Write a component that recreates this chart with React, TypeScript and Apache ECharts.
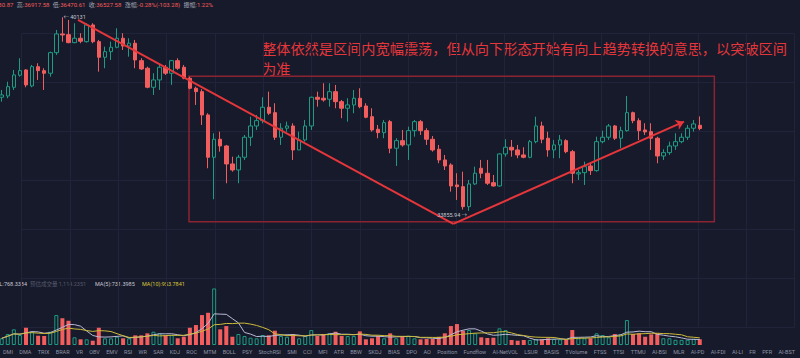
import React, { useEffect, useRef } from "react";
import * as echarts from "echarts";

// ---- candle data ----
const opens = [
  37539, 37581, 37863, 38252, 38424, 37905, 38530, 38401, 38317, 38984,
  39590, 39567, 39308, 39451, 39340, 39882, 39340, 38835, 39016, 39159,
  39451, 39201, 39289, 38725, 38479, 37863, 38100, 38511, 38317, 38725,
  38511, 38155, 37831, 37720, 36966, 35595, 36178, 35961, 35378, 35184,
  35595, 36243, 36609, 36781, 37215, 37040, 36243, 36535, 36609, 35832,
  36156, 36609, 37539, 37507, 37474, 37720, 37396, 37183, 37290, 37507,
  37257, 36910, 36502, 36392, 36748, 35887, 36133, 35994, 36457, 36748,
  36457, 36178, 35854, 35508, 35346, 34698, 34642, 33994, 34730, 35239,
  35077, 34772, 34665, 35702, 35919, 35832, 35670, 35595, 36100, 36609,
  36211, 35832, 35994, 36133, 35776, 35054, 35096, 35313, 35161, 36100,
  36243, 36609, 36211, 36457, 37040, 36781, 36480, 36424, 36211, 35637,
  35744, 35961, 36100, 36243, 36535, 36630.87,
];
const closes = [
  37614, 37882, 38262, 38401, 37938, 38530, 38401, 38317, 38984, 39590,
  39557, 39308, 39451, 39353, 39882, 39340, 38835, 39016, 39159, 39451,
  39201, 39289, 38748, 38456, 37863, 38100, 38511, 38317, 38725, 38479,
  38155, 37831, 37720, 36966, 35595, 36178, 35961, 35378, 35184, 35595,
  36243, 36609, 36781, 37215, 37021, 36243, 36535, 36609, 35832, 36156,
  36609, 37539, 37474, 37452, 37720, 37396, 37183, 37290, 37507, 37234,
  36891, 36480, 36392, 36716, 35887, 36133, 35994, 36457, 36748, 36457,
  36178, 35832, 35508, 35313, 34665, 34642, 33994, 34730, 35077, 35077,
  34753, 34665, 35702, 35919, 35832, 35670, 35595, 36100, 36609, 36178,
  35832, 35994, 36156, 35776, 35077, 35096, 35290, 35161, 36100, 36243,
  36609, 36211, 36457, 37040, 36781, 36457, 36415, 36211, 35637, 35744,
  35961, 36100, 36243, 36535, 36674, 36527.58,
];
const highs = [
  37776, 38044, 38424, 38803, 38446, 38586, 38641, 38479, 39016, 39720,
  40131, 40044, 39937, 39613, 39937, 39937, 39396, 39178, 39340, 39775,
  39613, 39451, 39396, 38803, 38530, 38317, 38586, 38586, 38748, 38803,
  38586, 38206, 37882, 37798, 37021, 36373, 36424, 35994, 35614, 35670,
  36318, 36910, 36966, 37539, 37720, 37345, 36697, 36748, 36697, 36424,
  36804, 37558, 37720, 37993, 37993, 37938, 37452, 37507, 37776, 37831,
  37345, 37183, 36642, 36804, 36804, 36211, 36480, 36586, 36804, 36804,
  36535, 36285, 35994, 35670, 35401, 35077, 35128, 34860, 35290, 35508,
  35508, 35022, 35725, 36178, 36156, 35994, 35919, 36156, 36910, 36748,
  36424, 36156, 36318, 36178, 35832, 35184, 35452, 35401, 36262, 36457,
  36674, 36642, 36586, 37581, 37073, 36859, 36697, 36697, 36262, 35854,
  36100, 36373, 36373, 36642, 36804, 36917.58,
];
const lows = [
  37396, 37507, 37776, 38206, 37863, 37863, 38100, 37776, 38206, 38910,
  39340, 39289, 39289, 39289, 39308, 39289, 38368, 38479, 38748, 39127,
  39072, 38854, 38479, 38424, 37831, 37614, 37776, 38262, 37938, 38424,
  38122, 37798, 37290, 36642, 35239, 34234, 35776, 34753, 35128, 34753,
  35508, 35961, 36480, 36697, 36966, 36156, 35994, 36424, 35508, 35832,
  36100, 36480, 37234, 37396, 37234, 37183, 36859, 36748, 37021, 37183,
  36859, 36424, 36211, 36211, 35725, 35313, 35938, 35508, 36262, 36318,
  35994, 35776, 35401, 35184, 34480, 34212, 33900, 33855.94, 34698, 34915,
  34698, 34642, 34642, 35614, 35614, 35563, 35563, 35563, 36049, 36049,
  35614, 35563, 35563, 35725, 34753, 34860, 34698, 35022, 35128, 36049,
  36156, 36156, 35887, 36424, 36697, 36156, 36318, 35832, 35401, 35508,
  35670, 35832, 36049, 36156, 36424, 36470.61,
];
const volumes = [
  891, 1463, 2088, 1330, 2301, 1769, 1237, 1197, 1769, 3990,
  3551, 3232, 1024, 758, 758, 572, 2301, 891, 891, 1104,
  891, 891, 1290, 1290, 1556, 1769, 1556, 1290, 1330, 891,
  1104, 2301, 2660, 3990, 4296, 7541, 2088, 2527, 1104, 1463,
  1197, 971, 891, 1330, 1290, 1902, 1197, 1104, 1463, 891,
  1197, 1995, 1197, 1463, 1556, 1769, 1197, 1197, 1197, 1822,
  758, 891, 1197, 891, 1556, 891, 1104, 1237, 891, 758,
  798, 798, 1104, 1556, 2527, 2793, 1902, 1995, 1556, 1024,
  931, 971, 2221, 1995, 665, 572, 665, 665, 798, 758,
  891, 798, 758, 665, 1995, 891, 891, 891, 1556, 1330,
  1024, 1463, 1423, 3325, 1463, 1556, 1104, 1423, 1556, 900,
  898, 690, 680, 700, 819, 768.3384,
];
const SLOT_COUNT = 132; // candle slots incl. empty future slots on the right

// ---- annotations (index, price) ----
const boxCorners = [[30.86, 38219], [117.4, 33508]];
const downTrend = [[12.57, 40043], [74.4, 33434]];
const upTrend = [[74.4, 33434], [112.4, 36748]];
const extremeHigh = { index: 10, price: 40131 };
const extremeLow = { index: 77, price: 33855.94 };

const headerParts = [
  ["开:", "36630.87"],
  ["高:", "36917.58"],
  ["低:", "36470.61"],
  ["收:", "36527.58"],
  ["涨幅:", "-0.28%(-103.28)"],
  ["振幅:", "1.22%"],
];
const volLegend = {
  vol: "VOL:768.3384",
  est: "预估成交量 1,114.2351",
  ma5: "MA(5):731.3985",
  ma10: "MA(10):953.7841",
};
const noteText =
  "整体依然是区间内宽幅震荡，但从向下形态开始有向上趋势转换的意思，以突破区间\n为准";
const toolbarItems = [
  "DMI", "DMA", "TRIX", "BRAR", "VR", "OBV", "EMV", "RSI", "WR", "SAR", "KDJ",
  "ROC", "MTM", "BOLL", "PSY", "StochRSI", "SMI", "CCI", "MFI", "ATR", "BBW",
  "SKDJ", "BIAS", "DPO", "AO", "Position", "Fundflow", "AI-NetVOL", "LSUR",
  "BASIS", "TVolume", "FTSS", "TTSI", "TTMU", "AI-BSI", "MLR", "AI-PD",
  "AI-FDI", "AI-LI", "FR", "PFR", "AI-BST",
];

const BG = "#171a2a";
const UP = "#1d9b83";
const DOWN = "#f25d5d";
const LINE = "#e5363b";
const BOX = "#8c2333";
const FONT = "Roboto, 'Noto Sans CJK SC', sans-serif";
const SMALL = 5.5;

function movingAvg(arr: number[], k: number) {
  return arr.map((_, i) => {
    const s = Math.max(0, i - k + 1);
    const part = arr.slice(s, i + 1);
    return part.reduce((a, b) => a + b, 0) / part.length;
  });
}

export default function App() {
  const ref = useRef<HTMLDivElement>(null);
  useEffect(() => {
    const chart = echarts.init(ref.current!, null, { renderer: "svg" });
    const cats = Array.from({ length: SLOT_COUNT }, (_, i) => String(i + 1));
    const candle = opens.map((o, i) => [o, closes[i], lows[i], highs[i]]);
    const volData = volumes.map((v, i) => ({
      value: v,
      itemStyle:
        closes[i] >= opens[i]
          ? { color: BG, borderColor: UP, borderWidth: 1 }
          : { color: DOWN, borderColor: DOWN, borderWidth: 0 },
    }));
    const ma5 = movingAvg(volumes, 5);
    const ma10 = movingAvg(volumes, 10);
    const hidden = {
      axisLine: { show: false },
      axisTick: { show: false },
      axisLabel: { show: false },
      splitLine: { show: false },
    };
    const gridLeft = 1.7;
    const gridRight = 3.1;

    // measure toolbar item widths so they can be spread across the width
    const ctx = document.createElement("canvas").getContext("2d")!;
    ctx.font = `${SMALL}px Roboto`;
    const widths = toolbarItems.map((t) => ctx.measureText(t).width);
    const totalW = widths.reduce((a, b) => a + b, 0);
    const startX = 3;
    const endX = 795;
    const gap = (endX - startX - totalW) / (toolbarItems.length - 1);
    let cx = startX;
    const toolbarGraphics = toolbarItems.map((t, i) => {
      const g = {
        type: "text",
        x: cx,
        y: 352,
        silent: true,
        style: {
          text: t,
          fill: "#8e94a6",
          fontSize: SMALL,
          fontFamily: "Roboto",
          verticalAlign: "middle",
          textVerticalAlign: "middle",
        },
      };
      cx += widths[i] + gap;
      return g;
    });

    const headerRich = headerParts
      .map(([l, v]) => `{l|${l}}{v|${v}}`)
      .join(" ");

    const smallText = (x: number, y: number, text: string, fill: string, align = "left") => ({
      type: "text",
      x,
      y,
      silent: true,
      style: {
        text,
        fill,
        fontSize: SMALL,
        fontFamily: FONT,
        align,
        textAlign: align,
        verticalAlign: "middle",
        textVerticalAlign: "middle",
      },
    });

    chart.setOption({
      animation: false,
      backgroundColor: BG,
      grid: [
        { left: gridLeft, right: gridRight, top: 0, height: 260 },
        { left: gridLeft, right: gridRight, top: 285, height: 60 },
        { left: 21.7, top: 33.5, width: 772.8, height: 294 },
      ],
      xAxis: [
        { type: "category", gridIndex: 0, data: cats, boundaryGap: false, ...hidden },
        { type: "value", gridIndex: 0, min: 0, max: SLOT_COUNT - 1, ...hidden },
        { type: "category", gridIndex: 1, data: cats, boundaryGap: false, ...hidden },
        {
          type: "value", gridIndex: 2, min: 0, max: 16, interval: 1,
          axisLine: { show: false }, axisTick: { show: false }, axisLabel: { show: false },
          splitLine: { show: true, lineStyle: { color: "#20243a", width: 1 } },
        },
      ],
      yAxis: [
        { type: "value", gridIndex: 0, min: 32266, max: 40690, ...hidden },
        { type: "value", gridIndex: 1, min: 0, max: 8000, ...hidden },
        {
          type: "value", gridIndex: 2, min: 0, max: 6, interval: 1,
          axisLine: { show: false }, axisTick: { show: false }, axisLabel: { show: false },
          splitLine: { show: true, lineStyle: { color: "#20243a", width: 1 } },
        },
      ],
      series: [
        {
          type: "candlestick",
          xAxisIndex: 0,
          yAxisIndex: 0,
          data: candle,
          barWidth: 4,
          clip: false,
          itemStyle: {
            color: BG,
            color0: DOWN,
            borderColor: UP,
            borderColor0: DOWN,
            borderWidth: 1,
          },
          markPoint: {
            silent: true,
            symbol: "circle",
            symbolSize: 0,
            data: [
              {
                coord: [extremeHigh.index, extremeHigh.price],
                label: {
                  show: true, position: "right", distance: 1,
                  formatter: "← " + extremeHigh.price,
                  color: "#c3c6d1", fontSize: SMALL, fontFamily: FONT,
                },
              },
              {
                coord: [extremeLow.index, extremeLow.price],
                label: {
                  show: true, position: "left", distance: 2, offset: [0, 4],
                  formatter: extremeLow.price.toFixed(2) + " →",
                  color: "#c3c6d1", fontSize: SMALL, fontFamily: FONT,
                },
              },
            ],
          },
        },
        {
          type: "line",
          xAxisIndex: 1,
          yAxisIndex: 0,
          data: [],
          silent: true,
          markArea: {
            silent: true,
            itemStyle: { color: "rgba(0,0,0,0)", borderColor: BOX, borderWidth: 1.5 },
            label: { show: false },
            data: [[{ coord: boxCorners[0] }, { coord: boxCorners[1] }]],
          },
          markLine: {
            silent: true,
            symbol: ["none", "none"],
            label: { show: false },
            lineStyle: { color: LINE, width: 2, type: "solid" },
            data: [
              [{ coord: downTrend[0] }, { coord: downTrend[1] }],
              [
                { coord: upTrend[0] },
                { coord: upTrend[1], symbol: "arrow", symbolSize: 8 },
              ],
            ],
          },
        },
        {
          type: "bar",
          xAxisIndex: 2,
          yAxisIndex: 1,
          data: volData,
          barWidth: 4,
        },
        {
          type: "line",
          xAxisIndex: 2,
          yAxisIndex: 1,
          data: ma5,
          showSymbol: false,
          lineStyle: { color: "#b9bad6", width: 1 },
          z: 3,
        },
        {
          type: "line",
          xAxisIndex: 2,
          yAxisIndex: 1,
          data: ma10,
          showSymbol: false,
          lineStyle: { color: "#cdbb3a", width: 1 },
          z: 3,
        },
      ],
      graphic: [
        {
          type: "text",
          x: 213,
          y: 4.5,
          silent: true,
          style: {
            text: headerRich,
            align: "right",
            verticalAlign: "middle",
            textAlign: "right",
            textVerticalAlign: "middle",
            rich: {
              l: { fill: "#a4a8b6", fontSize: 6, fontFamily: FONT },
              v: { fill: DOWN, fontSize: 6, fontFamily: FONT },
            },
          },
        },
        {
          type: "text",
          x: 262,
          y: 38,
          silent: true,
          style: {
            text: noteText,
            fill: LINE,
            fontSize: 14.2,
            lineHeight: 20,
            fontFamily: "'Noto Sans CJK SC', sans-serif",
          },
        },
        smallText(27, 283.5, volLegend.vol, "#c5c7d3", "right"),
        smallText(30, 283.5, volLegend.est, "#555a6e"),
        smallText(95, 283.5, volLegend.ma5, "#c5c7d3"),
        smallText(142, 283.5, volLegend.ma10, "#d9c93c"),
        ...toolbarGraphics,
      ],
    });
    return () => chart.dispose();
  }, []);
  return (
    <div
      ref={ref}
      style={{ position: "fixed", left: 0, top: 0, width: 800, height: 358, background: BG }}
    />
  );
}
